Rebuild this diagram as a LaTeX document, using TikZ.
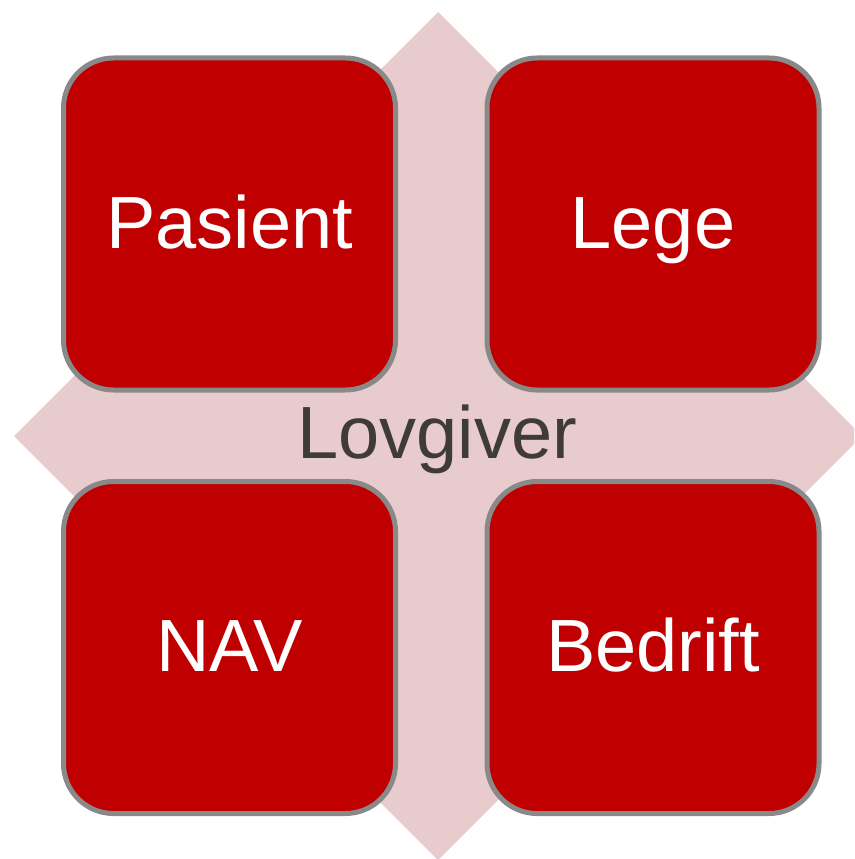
\documentclass[tikz,border=0pt]{standalone}
\usepackage{fontspec}
\setmainfont{Liberation Sans}
\definecolor{boxred}{RGB}{192,0,0}
\definecolor{boxgray}{RGB}{137,137,137}
\definecolor{diapink}{RGB}{232,203,204}
\definecolor{txtdark}{RGB}{63,59,54}
\begin{document}
\begin{tikzpicture}[x=1pt,y=-1pt,
  card/.style={draw=boxgray, line width=5pt, fill=boxred, rounded corners=50pt,
    minimum width=332pt, minimum height=332pt, inner sep=0pt, text=white,
    font=\fontsize{74}{80}\selectfont, text height=48pt, text depth=0pt},
  centrelabel/.style={inner sep=0pt, text=txtdark,
    font=\fontsize{74}{80}\selectfont, text height=48pt, text depth=0pt}]
\useasboundingbox (0,0) rectangle (854,859);
\begin{scope}
\clip (0,0) rectangle (854,859);
\fill[diapink] (438,12) -- (862,436) -- (438,860) -- (14,436) -- cycle;
\end{scope}
\node[centrelabel] (lov) at (437,434) {Lovgiver};
\node[card] (pasient) at (229.5,224) {Pasient};
\node[card] (lege) at (653,224) {Lege};
\node[card] (nav) at (229.5,647.5) {NAV};
\node[card] (bedrift) at (653,647.5) {Bedrift};
\end{tikzpicture}
\end{document}
